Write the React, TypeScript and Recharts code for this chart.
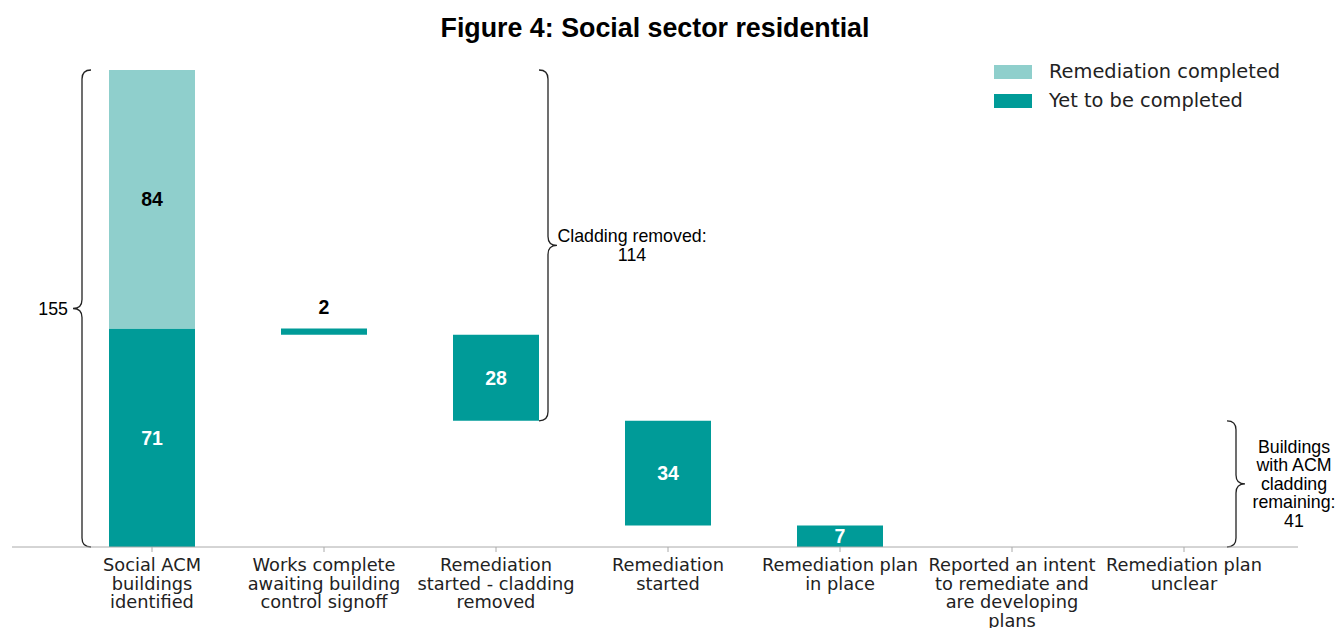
import React from 'react'
import { BarChart, Bar, XAxis, YAxis, ReferenceArea, LabelList } from 'recharts'

const categories = [
  'Social ACM buildings identified',
  'Works complete awaiting building control signoff',
  'Remediation started - cladding removed',
  'Remediation started',
  'Remediation plan in place',
  'Reported an intent to remediate and are developing plans',
  'Remediation plan unclear',
]
const tickLines = [
  ['Social ACM', 'buildings', 'identified'],
  ['Works complete', 'awaiting building', 'control signoff'],
  ['Remediation', 'started - cladding', 'removed'],
  ['Remediation', 'started'],
  ['Remediation plan', 'in place'],
  ['Reported an intent', 'to remediate and', 'are developing', 'plans'],
  ['Remediation plan', 'unclear'],
]
// invisible base of each floating bar
const offsets = [0, 69, 41, 7, 0, 0, 0]
const remaining = [71, 2, 28, 34, 7, 0, 0]
const completed = [84, 0, 0, 0, 0, 0, 0]

const LIGHT = '#8fcfcc'
const DARK = '#009b98'
const ARIAL = '"Liberation Sans", Arial, sans-serif'
const DEJAVU = '"DejaVu Sans", sans-serif'

const data = categories.map((name, i) => ({
  name,
  offset: offsets[i],
  remaining: remaining[i],
  completed: completed[i],
}))

const legendItems = [
  { label: 'Remediation completed', color: LIGHT },
  { label: 'Yet to be completed', color: DARK },
]

const CategoryTick = ({ x, y, payload }: any) => {
  const lines = tickLines[payload.index] || [payload.value]
  return (
    <text x={x} y={y + 17} textAnchor="middle" fill="#222" fontFamily={DEJAVU} fontSize={17.8}>
      {lines.map((l, i) => (
        <tspan key={i} x={x} dy={i === 0 ? 0 : 18.5}>
          {l}
        </tspan>
      ))}
    </text>
  )
}

const barLabel = (dark: boolean) => (props: any) => {
  const { x, y, width, height, value } = props
  if (!value) return null
  const small = height < 12
  return (
    <text
      x={x + width / 2}
      y={small ? y - 22 : y + height / 2}
      textAnchor="middle"
      dominantBaseline="central"
      fill={dark && !small ? '#fff' : '#000'}
      fontFamily={ARIAL}
      fontWeight="bold"
      fontSize={19.5}
    >
      {value}
    </text>
  )
}

// curly brace; dir -1 => tip points left, 1 => tip points right
const bracePath = (x: number, y0: number, y1: number, dir: number) => {
  const r = 9
  const ym = (y0 + y1) / 2
  return `M ${x - dir * r} ${y0} Q ${x} ${y0} ${x} ${y0 + r} L ${x} ${ym - r} Q ${x} ${ym} ${x + dir * r} ${ym} Q ${x} ${ym} ${x} ${ym + r} L ${x} ${y1 - r} Q ${x} ${y1} ${x - dir * r} ${y1}`
}

const Brace = ({ x, y, width, height, dir, shift, lines, textDx }: any) => {
  const cx = x + width / 2 + shift
  const ym = y + height / 2
  const lh = 18.5
  const startY = ym - ((lines.length - 1) * lh) / 2
  return (
    <g>
      <path d={bracePath(cx, y, y + height, dir)} fill="none" stroke="#222" strokeWidth={1.3} />
      <text
        x={cx + textDx}
        y={startY}
        textAnchor={dir < 0 ? 'end' : 'middle'}
        dominantBaseline="central"
        fontFamily={ARIAL}
        fontSize={17.8}
        fill="#000"
      >
        {lines.map((l: string, i: number) => (
          <tspan key={i} x={cx + textDx} dy={i === 0 ? 0 : lh}>
            {l}
          </tspan>
        ))}
      </text>
    </g>
  )
}

export default function App() {
  return (
    <div style={{ position: 'absolute', left: 8, top: 8, width: 1328, height: 620 }}>
      <div
        style={{
          position: 'absolute',
          top: 5,
          left: 4,
          width: 1286,
          textAlign: 'center',
          fontFamily: ARIAL,
          fontWeight: 'bold',
          fontSize: 26.8,
          lineHeight: '30px',
          color: '#000',
        }}
      >
        Figure 4: Social sector residential
      </div>
      <div style={{ position: 'absolute', left: 986, top: 49, fontFamily: DEJAVU, fontSize: 19.4, color: '#222' }}>
        {legendItems.map((item) => (
          <div key={item.label} style={{ display: 'flex', alignItems: 'center', height: 29 }}>
            <span style={{ width: 38, height: 14, background: item.color, marginRight: 17 }} />
            <span>{item.label}</span>
          </div>
        ))}
      </div>
      <BarChart
        width={1328}
        height={620}
        data={data}
        margin={{ top: 62, right: 38, bottom: 51, left: 4 }}
        barSize={86}
      >
        <XAxis
          dataKey="name"
          padding={{ left: 54, right: 28 }}
          axisLine={{ stroke: '#aaa' }}
          tickLine={{ stroke: '#aaa' }}
          tickSize={5}
          interval={0}
          tick={<CategoryTick />}
        />
        <YAxis hide domain={[0, 155]} />
        <Bar dataKey="offset" stackId="w" fill="transparent" isAnimationActive={false} />
        <Bar dataKey="remaining" stackId="w" fill={DARK} isAnimationActive={false}>
          <LabelList dataKey="remaining" content={barLabel(true)} />
        </Bar>
        <Bar dataKey="completed" stackId="w" fill={LIGHT} isAnimationActive={false}>
          <LabelList dataKey="completed" content={barLabel(false)} />
        </Bar>
        <ReferenceArea
          x1={categories[0]}
          x2={categories[0]}
          y1={0}
          y2={155}
          ifOverflow="visible"
          shape={(p: any) => <Brace {...p} dir={-1} shift={-70} textDx={-14} lines={['155']} />}
        />
        <ReferenceArea
          x1={categories[2]}
          x2={categories[2]}
          y1={41}
          y2={155}
          ifOverflow="visible"
          shape={(p: any) => (
            <Brace {...p} dir={1} shift={52} textDx={84} lines={['Cladding removed:', '114']} />
          )}
        />
        <ReferenceArea
          x1={categories[6]}
          x2={categories[6]}
          y1={0}
          y2={41}
          ifOverflow="visible"
          shape={(p: any) => (
            <Brace
              {...p}
              dir={1}
              shift={52}
              textDx={58}
              lines={['Buildings', 'with ACM', 'cladding', 'remaining:', '41']}
            />
          )}
        />
      </BarChart>
    </div>
  )
}
